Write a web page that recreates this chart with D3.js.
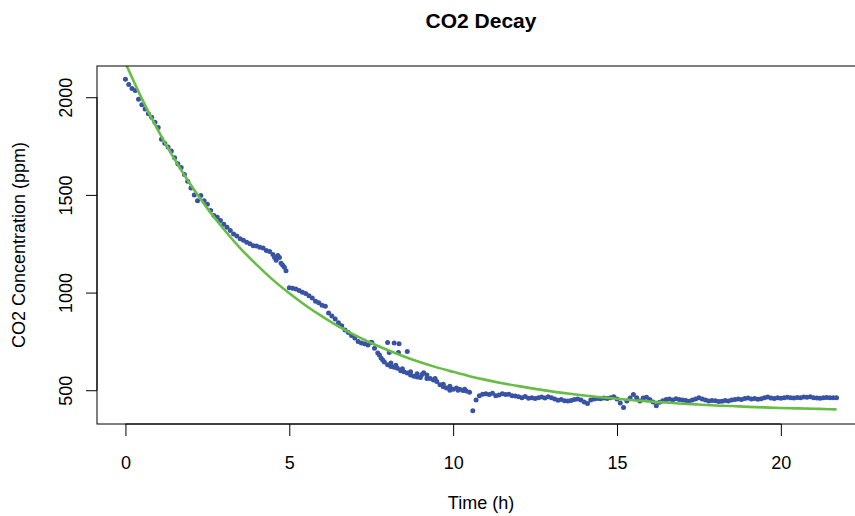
<!DOCTYPE html>
<html>
<head>
<meta charset="utf-8">
<script src="https://cdn.jsdelivr.net/npm/d3@7"></script>
<style>
  body { margin: 0; background: #fff; }
  svg { display: block; font-family: "Liberation Sans", Arial, Helvetica, sans-serif; }
</style>
</head>
<body>
<svg id="chart"></svg>
<script>
"use strict";

// measured CO2 (ppm), one reading every 0.1 h from 0 to 21.7 h
const timeStep = 0.1;
const co2 = [
  2092, 2065, 2045, 2035, 1990, 1962, 1940, 1915, 1898, 1872,
  1845, 1785, 1765, 1745, 1725, 1690, 1660, 1640, 1605, 1570,
  1535, 1500, 1470, 1497, 1470, 1452, 1420, 1394, 1385, 1369,
  1350, 1334, 1318, 1300, 1290, 1275, 1268, 1257, 1250, 1240,
  1238, 1232, 1228, 1215, 1210, 1195, 1165, 1180, 1140, 1112,
  1025, 1022, 1018, 1010, 1001, 995, 984, 972, 955, 948,
  935, 930, 895, 880, 865, 845, 830, 808, 795, 780,
  768, 750, 742, 738, 732, 745, 715, 690, 665, 645,
  630, 622, 618, 612, 600, 594, 588, 578, 572, 568,
  565, 590, 578, 560, 552, 545, 528, 518, 512, 500,
  505, 512, 505, 498, 496, 490, 395, 450, 472, 480,
  482, 478, 484, 472, 476, 482, 478, 480, 472, 470,
  466, 462, 468, 459, 462, 458, 462, 465, 460, 466,
  462, 455, 449, 452, 446, 445, 448, 452, 455, 450,
  440, 432, 450, 455, 458, 456, 460, 458, 462, 466,
  455, 435, 412, 445, 460, 478, 462, 445, 460, 464,
  452, 440, 420, 438, 446, 452, 455, 450, 456, 453,
  450, 448, 444, 450, 455, 462, 455, 450, 445, 448,
  446, 442, 444, 448, 445, 450, 452, 455, 452, 458,
  460, 455, 458, 454, 456, 462, 465, 460, 458, 462,
  459, 462, 464, 462, 460, 463, 462, 465, 464, 466,
  462, 460, 459, 462, 463, 461, 462, 462
];

// extra readings off the main band (noisy stretches)
const strayTime = [
  8.0, 8.2, 8.35, 8.05, 8.33, 8.6, 7.52,
  4.55, 4.65, 4.75, 4.85,
  7.75, 7.85, 8.1, 8.25, 8.45, 8.7, 8.9, 9.05, 9.2, 9.45, 9.7, 9.9, 10.15, 10.35
];
const strayCo2 = [
  744, 742, 738, 693, 693, 698, 744,
  1180, 1190, 1150, 1130,
  680, 655, 640, 628, 610, 595, 585, 580, 560, 560, 530, 520, 500, 505
];

// fitted decay curve, read every 0.5 h
const fitTime = [
  0, 0.5, 1, 1.5, 2, 2.5, 3, 3.5, 4, 4.5, 5, 5.5, 6, 6.5, 7, 7.5, 8, 8.5,
  9, 9.5, 10, 10.5, 11, 11.5, 12, 12.5, 13, 13.5, 14, 14.5, 15, 15.5, 16,
  16.5, 17, 17.5, 18, 18.5, 19, 19.5, 20, 20.5, 21, 21.5, 21.7
];
const fitCo2 = [
  2175, 1993, 1829, 1682, 1549, 1431, 1324, 1228, 1143, 1065, 996, 934,
  878, 827, 782, 742, 706, 673, 643, 617, 594, 572, 553, 536, 521, 507,
  494, 483, 473, 464, 456, 449, 442, 437, 431, 427, 422, 419, 415, 412,
  409, 407, 405, 403, 402
];

const xTicks = [0, 5, 10, 15, 20];
const yTicks = [500, 1000, 1500, 2000];

const width = 855;
const height = 516;
// plot region (right edge runs past the window, as in the original)
const plotLeft = 97, plotRight = 865, plotTop = 66, plotBottom = 424;

const points = co2.map((v, i) => ({ t: i * timeStep, v: v }))
  .concat(strayTime.map((t, i) => ({ t: t, v: strayCo2[i] })));
const fit = fitTime.map((t, i) => ({ t: t, v: fitCo2[i] }));

// R style 4% padding on both axes
const tMax = d3.max(points, (d) => d.t);
const vMin = d3.min(points, (d) => d.v);
const vMax = d3.max(points, (d) => d.v);
const tPad = tMax * 0.04;
const vPad = (vMax - vMin) * 0.04;

const x = d3.scaleLinear()
  .domain([-tPad, tMax + tPad])
  .range([plotLeft, plotRight]);

const y = d3.scaleLinear()
  .domain([vMin - vPad, vMax + vPad])
  .range([plotBottom, plotTop]);

const svg = d3.select("#chart")
  .attr("width", width)
  .attr("height", height)
  .attr("viewBox", [0, 0, width, height]);

svg.append("clipPath")
  .attr("id", "plot-clip")
  .append("rect")
  .attr("x", plotLeft)
  .attr("y", plotTop)
  .attr("width", plotRight - plotLeft)
  .attr("height", plotBottom - plotTop);

const plot = svg.append("g").attr("clip-path", "url(#plot-clip)");

// points
plot.selectAll("circle.pt")
  .data(points)
  .join("circle")
  .attr("class", "pt")
  .attr("cx", (d) => x(d.t))
  .attr("cy", (d) => y(d.v))
  .attr("r", 2.5)
  .attr("fill", "#3953a4");

// fitted line
const line = d3.line()
  .x((d) => x(d.t))
  .y((d) => y(d.v))
  .curve(d3.curveMonotoneX);

plot.append("path")
  .datum(fit)
  .attr("d", line)
  .attr("fill", "none")
  .attr("stroke", "#67bd45")
  .attr("stroke-width", 2.6);

// box
svg.append("rect")
  .attr("x", plotLeft)
  .attr("y", plotTop)
  .attr("width", plotRight - plotLeft)
  .attr("height", plotBottom - plotTop)
  .attr("fill", "none")
  .attr("stroke", "#000")
  .attr("stroke-width", 1);

// X axis
const xAxis = d3.axisBottom(x)
  .tickValues(xTicks)
  .tickSize(12)
  .tickPadding(20)
  .tickFormat(d3.format("d"));

const gx = svg.append("g")
  .attr("transform", `translate(0,${plotBottom})`)
  .call(xAxis);
gx.select(".domain")
  .attr("d", `M${x(xTicks[0])},0H${x(xTicks[xTicks.length - 1])}`);
gx.selectAll("text")
  .attr("font-size", 18)
  .attr("font-family", null)
  .attr("fill", "#000");

// Y axis
const yAxis = d3.axisLeft(y)
  .tickValues(yTicks)
  .tickSize(11)
  .tickFormat(d3.format("d"));

const gy = svg.append("g")
  .attr("transform", `translate(${plotLeft},0)`)
  .call(yAxis);
gy.select(".domain")
  .attr("d", `M0,${y(yTicks[0])}V${y(yTicks[yTicks.length - 1])}`);
gy.selectAll("text")
  .attr("font-size", 18)
  .attr("font-family", null)
  .attr("fill", "#000")
  .attr("x", null)
  .attr("dy", null)
  .attr("text-anchor", "middle")
  .attr("transform", "translate(-25,0) rotate(-90)");

svg.selectAll(".tick line, .domain").attr("stroke", "#000");

// titles
svg.append("text")
  .attr("x", (plotLeft + plotRight) / 2)
  .attr("y", 28)
  .attr("text-anchor", "middle")
  .attr("font-size", 21)
  .attr("font-weight", "bold")
  .text("CO2 Decay");

svg.append("text")
  .attr("x", (plotLeft + plotRight) / 2)
  .attr("y", 509)
  .attr("text-anchor", "middle")
  .attr("font-size", 18)
  .text("Time (h)");

svg.append("text")
  .attr("transform", `translate(25,${(plotTop + plotBottom) / 2}) rotate(-90)`)
  .attr("text-anchor", "middle")
  .attr("font-size", 18)
  .text("CO2 Concentration (ppm)");
</script>
</body>
</html>
